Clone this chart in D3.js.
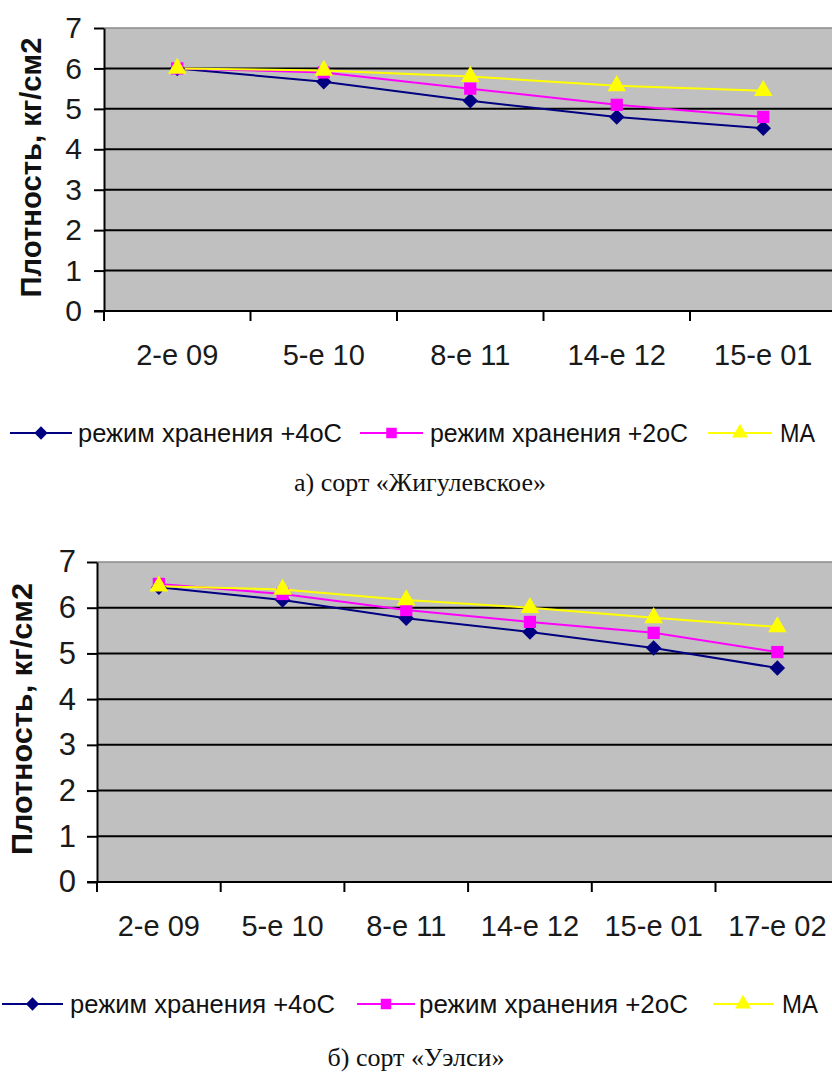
<!DOCTYPE html>
<html>
<head>
<meta charset="utf-8">
<script src="https://cdn.jsdelivr.net/npm/d3@7"></script>
<style>
  html, body { margin: 0; padding: 0; background: #ffffff; }
  svg { display: block; }
</style>
</head>
<body>
<svg id="chart" width="832" height="1072"></svg>
<script>
// Series labels shared by both panels
const seriesNames = ["режим хранения +4oC", "режим хранения +2oC", "МА"];
const seriesColors = ["#000080", "#ff00ff", "#ffff00"];
const yTicks = [0, 1, 2, 3, 4, 5, 6, 7];

// Panel а) — сорт «Жигулевское»
const datesA = ["2-е 09", "5-е 10", "8-е 11", "14-е 12", "15-е 01"];
const plus4A = [6.0, 5.67, 5.2, 4.8, 4.52];
const plus2A = [6.0, 5.9, 5.5, 5.1, 4.8];
const maA    = [6.0, 5.95, 5.8, 5.57, 5.45];

// Panel б) — сорт «Уэлси»
const datesB = ["2-е 09", "5-е 10", "8-е 11", "14-е 12", "15-е 01", "17-е 02"];
const plus4B = [6.45, 6.17, 5.77, 5.47, 5.12, 4.68];
const plus2B = [6.52, 6.3, 5.95, 5.69, 5.45, 5.03];
const maB    = [6.47, 6.4, 6.17, 6.0, 5.78, 5.58];

const svg = d3.select("#chart");

// marker shapes: diamond (rotated square), square, triangle
function symbolPath(i, size) {
  if (i === 0) return d3.symbol(d3.symbolSquare, size * 0.8)();
  if (i === 1) return d3.symbol(d3.symbolSquare, size)();
  return d3.symbol(d3.symbolTriangle, size * 1.0)();
}

function drawPanel(opt) {
  const g = svg.append("g");
  const x = d3.scaleBand().domain(opt.dates).range([opt.left, opt.left + opt.band * opt.dates.length]);
  const y = d3.scaleLinear().domain([0, 7]).range([opt.bottom, opt.top]);
  const right = Math.min(832, x.range()[1]);

  // plot background
  g.append("rect")
    .attr("x", opt.left).attr("y", y(7))
    .attr("width", right - opt.left).attr("height", y(0) - y(7))
    .attr("fill", "#c0c0c0");
  g.append("line")
    .attr("x1", opt.left).attr("x2", right)
    .attr("y1", y(7)).attr("y2", y(7))
    .attr("stroke", "#8a8a8a").attr("stroke-width", 1.5);

  // horizontal gridlines
  g.append("g")
    .selectAll("line")
    .data(yTicks.filter(t => t > 0 && t < 7))
    .join("line")
    .attr("x1", opt.left).attr("x2", right)
    .attr("y1", d => y(d)).attr("y2", d => y(d))
    .attr("stroke", "#000").attr("stroke-width", 2);

  // y axis
  const yAxis = g.append("g")
    .attr("transform", `translate(${opt.left},0)`)
    .call(d3.axisLeft(y).tickValues(yTicks).tickFormat(d3.format("d"))
      .tickSize(10).tickPadding(opt.yPad).tickSizeOuter(0));
  yAxis.select(".domain").attr("stroke", "#000").attr("stroke-width", 2);
  yAxis.selectAll(".tick line").attr("stroke", "#000").attr("stroke-width", 2);
  yAxis.selectAll(".tick text")
    .attr("font-family", "Liberation Sans, Arial, sans-serif")
    .attr("font-size", opt.yFont).attr("fill", "#1a1a1a");

  // x axis: baseline, ticks on category boundaries, centred labels
  g.append("line")
    .attr("x1", opt.left - 10).attr("x2", right)
    .attr("y1", y(0)).attr("y2", y(0))
    .attr("stroke", "#000").attr("stroke-width", 2);
  g.append("g")
    .selectAll("line")
    .data(opt.dates)
    .join("line")
    .attr("x1", d => x(d)).attr("x2", d => x(d))
    .attr("y1", y(0)).attr("y2", y(0) + 10)
    .attr("stroke", "#000").attr("stroke-width", 2);
  g.append("g")
    .selectAll("text")
    .data(opt.dates)
    .join("text")
    .attr("x", d => x(d) + x.bandwidth() / 2)
    .attr("y", opt.labelY)
    .attr("text-anchor", "middle")
    .attr("dominant-baseline", "central")
    .attr("font-family", "Liberation Sans, Arial, sans-serif")
    .attr("font-size", 29).attr("fill", "#1a1a1a")
    .text(d => d);

  // y axis title
  g.append("text")
    .attr("transform", `translate(${opt.titleX},${(y(0) + y(7)) / 2 + opt.titleDy}) rotate(-90)`)
    .attr("text-anchor", "middle")
    .attr("font-family", "Liberation Sans, Arial, sans-serif")
    .attr("font-weight", "bold")
    .attr("font-size", 30)
    .attr("textLength", opt.titleLen)
    .attr("lengthAdjust", "spacingAndGlyphs")
    .attr("fill", "#111")
    .text("Плотность, кг/см2");

  // series lines and markers
  const line = d3.line()
    .x((d, i) => x(opt.dates[i]) + x.bandwidth() / 2)
    .y(d => y(d));
  opt.series.forEach((vals, si) => {
    g.append("path")
      .datum(vals)
      .attr("d", line)
      .attr("fill", "none")
      .attr("stroke", seriesColors[si])
      .attr("stroke-width", 2);
  });
  opt.series.forEach((vals, si) => {
    g.append("g")
      .selectAll("path")
      .data(vals)
      .join("path")
      .attr("d", symbolPath(si, 150))
      .attr("transform", (d, i) =>
        `translate(${x(opt.dates[i]) + x.bandwidth() / 2},${y(d)})` + (si === 0 ? " rotate(45)" : ""))
      .attr("fill", seriesColors[si]);
  });

  // legend
  const leg = g.append("g");
  opt.legend.forEach((item, si) => {
    const cy = opt.legendY;
    leg.append("line")
      .attr("x1", item.x1).attr("x2", item.x2)
      .attr("y1", cy).attr("y2", cy)
      .attr("stroke", seriesColors[si]).attr("stroke-width", 2);
    leg.append("path")
      .attr("d", symbolPath(si, 110))
      .attr("transform", `translate(${(item.x1 + item.x2) / 2},${cy})` + (si === 0 ? " rotate(45)" : ""))
      .attr("fill", seriesColors[si]);
    leg.append("text")
      .attr("x", item.tx).attr("y", cy)
      .attr("dominant-baseline", "central")
      .attr("font-family", "Liberation Sans, Arial, sans-serif")
      .attr("font-size", 25)
      .attr("fill", "#111")
      .attr("textLength", item.tw)
      .attr("lengthAdjust", "spacingAndGlyphs")
      .text(seriesNames[si]);
  });

  // caption
  g.append("text")
    .attr("x", opt.captionX).attr("y", opt.captionY)
    .attr("text-anchor", "middle")
    .attr("dominant-baseline", "central")
    .attr("font-family", "Liberation Serif, Times New Roman, serif")
    .attr("font-size", 26)
    .attr("fill", "#111")
    .text(opt.caption);
}

drawPanel({
  dates: datesA,
  series: [plus4A, plus2A, maA],
  left: 104, band: 146.5, top: 28, bottom: 311,
  yPad: 12, yFont: 30,
  labelY: 355,
  titleX: 41, titleDy: -2, titleLen: 260,
  legendY: 433,
  legend: [
    { x1: 10, x2: 72, tx: 78, tw: 264 },
    { x1: 360, x2: 423, tx: 430, tw: 258 },
    { x1: 708, x2: 772, tx: 780, tw: 35 }
  ],
  captionX: 420, captionY: 482,
  caption: "а) сорт «Жигулевское»"
});

drawPanel({
  dates: datesB,
  series: [plus4B, plus2B, maB],
  left: 97, band: 123.7, top: 562, bottom: 882,
  yPad: 11, yFont: 31,
  labelY: 926,
  titleX: 32, titleDy: -3, titleLen: 272,
  legendY: 1004,
  legend: [
    { x1: 2, x2: 63, tx: 70, tw: 265 },
    { x1: 357, x2: 415, tx: 419, tw: 269 },
    { x1: 713, x2: 773, tx: 782, tw: 36 }
  ],
  captionX: 416, captionY: 1057,
  caption: "б) сорт «Уэлси»"
});
</script>
</body>
</html>
